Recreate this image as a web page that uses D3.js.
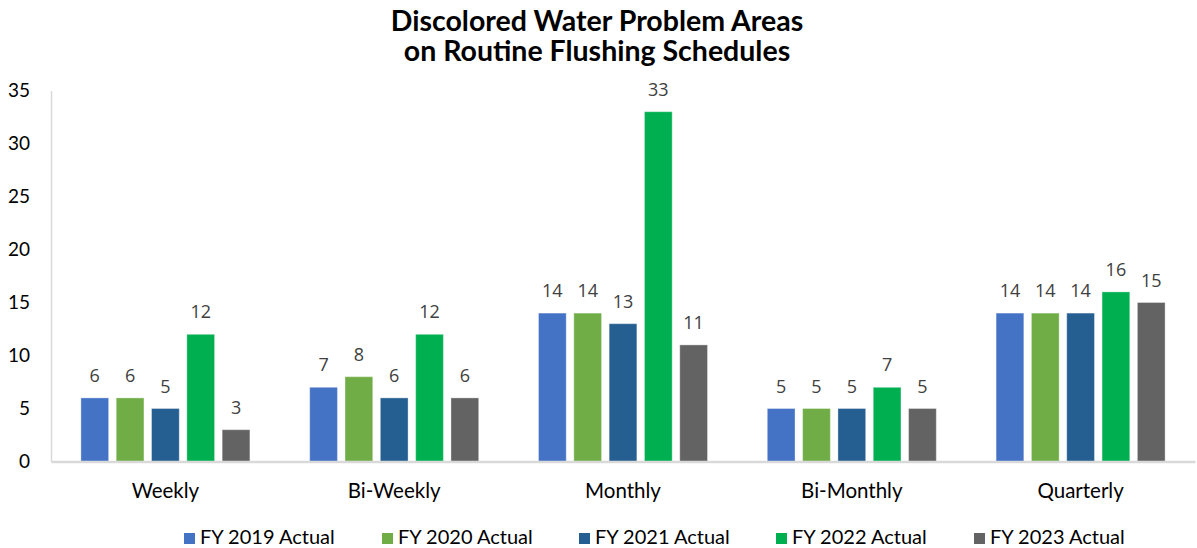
<!DOCTYPE html>
<html><head><meta charset="utf-8">
<script src="https://cdn.jsdelivr.net/npm/d3@7"></script>
<style>body{margin:0;background:#fff;} svg{display:block;}</style>
</head><body>
<svg id="c" width="1197" height="548"></svg>
<script>
const categories = ["Weekly", "Bi-Weekly", "Monthly", "Bi-Monthly", "Quarterly"];
const seriesNames = ["FY 2019 Actual", "FY 2020 Actual", "FY 2021 Actual", "FY 2022 Actual", "FY 2023 Actual"];
const fy2019 = [6, 7, 14, 5, 14];
const fy2020 = [6, 8, 14, 5, 14];
const fy2021 = [5, 6, 13, 5, 14];
const fy2022 = [12, 12, 33, 7, 16];
const fy2023 = [3, 6, 11, 5, 15];
const colors = ["#4472C4", "#70AD47", "#255E91", "#00B050", "#636363"];
const yTicks = [0, 5, 10, 15, 20, 25, 30, 35];
const titleLines = ["Discolored Water Problem Areas", "on Routine Flushing Schedules"];

const series = [fy2019, fy2020, fy2021, fy2022, fy2023];
const svg = d3.select("#c");
const plotLeft = 51, plotRight = 1195, plotTop = 90.5, plotBottom = 461.5;

const y = d3.scaleLinear().domain([0, 35]).range([plotBottom, plotTop]);
const x0 = d3.scaleBand().domain(categories).range([plotLeft, plotRight]).paddingInner(0).paddingOuter(0);
const groupW = 169;
const x1 = d3.scaleBand().domain(d3.range(series.length)).range([0, groupW]).paddingInner(0.215).paddingOuter(0);

// title (one multi-line text)
const title = svg.append("text")
  .attr("text-anchor", "middle")
  .attr("font-family", "Lato, 'Open Sans', sans-serif")
  .attr("font-weight", "bold").attr("font-size", 28.5).attr("fill", "#000");
title.selectAll("tspan").data(titleLines).join("tspan")
  .attr("x", 597).attr("y", (d, i) => 31 + i * 30)
  .text(d => d);

// y axis
const yAxis = svg.append("g").attr("transform", `translate(${plotLeft},0)`)
  .call(d3.axisLeft(y).tickValues(yTicks).tickSize(0).tickPadding(21));
yAxis.select(".domain").attr("stroke", "#d9d9d9").attr("stroke-width", 1.5);
yAxis.selectAll("text").attr("font-family", "Lato, sans-serif").attr("font-size", 19).attr("fill", "#000");

// bars
const groups = svg.append("g").selectAll("g").data(categories).join("g")
  .attr("transform", c => `translate(${x0(c) + (x0.bandwidth() - groupW) / 2},0)`);

groups.each(function (c, ci) {
  const g = d3.select(this);
  series.forEach((s, si) => {
    g.append("rect")
      .attr("x", x1(si)).attr("width", x1.bandwidth())
      .attr("y", y(s[ci])).attr("height", y(0) - y(s[ci]))
      .attr("fill", colors[si])
      .attr("stroke", "#ffffff").attr("stroke-opacity", 0.35).attr("stroke-width", 1);
    g.append("text")
      .attr("x", x1(si) + x1.bandwidth() / 2).attr("y", y(s[ci]) - 16)
      .attr("text-anchor", "middle")
      .attr("font-family", "'Open Sans', 'Liberation Sans', sans-serif")
      .attr("font-size", 18).attr("fill", "#404040")
      .text(s[ci]);
  });
});

// x axis
const xAxis = svg.append("g").attr("transform", `translate(0,${plotBottom})`)
  .call(d3.axisBottom(x0).tickSize(0).tickPadding(0));
xAxis.select(".domain").attr("stroke", "#d9d9d9").attr("stroke-width", 2.5);
xAxis.selectAll("text").attr("dy", null).attr("y", 36.5)
  .attr("font-family", "Lato, sans-serif").attr("font-size", 20.5).attr("fill", "#000");

// legend
const legendX = [184, 382, 579, 776, 974];
const lg = svg.append("g").selectAll("g").data(seriesNames).join("g")
  .attr("transform", (d, i) => `translate(${legendX[i]},539)`);
lg.append("rect").attr("x", 0).attr("y", -6).attr("width", 11).attr("height", 11)
  .attr("fill", (d, i) => colors[i]);
lg.append("text").attr("x", 16).attr("y", 0).attr("dominant-baseline", "middle")
  .attr("font-family", "Lato, sans-serif").attr("font-size", 20).attr("fill", "#000")
  .text(d => d);
</script>
</body></html>
